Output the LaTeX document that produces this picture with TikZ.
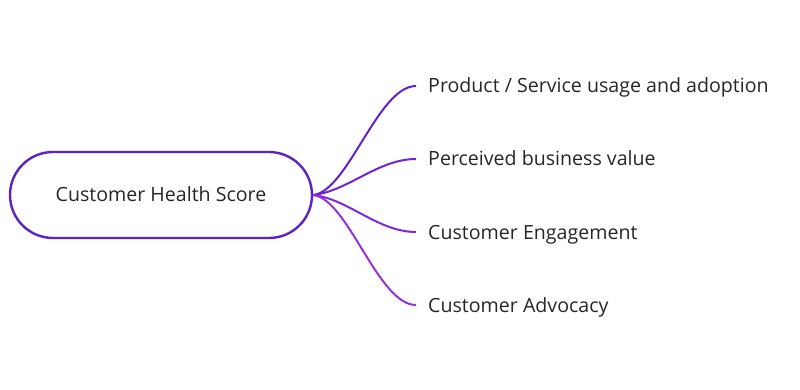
\documentclass[tikz,border=0pt]{standalone}
\usepackage{fontspec}
\setmainfont{Open Sans}
\usetikzlibrary{shapes.misc}

\definecolor{rootline}{RGB}{92,34,196}
\definecolor{branchA}{RGB}{98,32,208}
\definecolor{branchB}{RGB}{112,36,212}
\definecolor{branchC}{RGB}{130,40,214}
\definecolor{branchD}{RGB}{150,50,216}

\begin{document}
\begin{tikzpicture}[
  x=1pt,y=-1pt,
  root/.style={rounded rectangle,draw=rootline,line width=2.4pt,
    minimum width=302pt,minimum height=86pt,inner sep=0pt,
    text height=14pt,text depth=0pt,
    font=\fontsize{19.6}{23}\selectfont,text=black!85},
  leaf/.style={anchor=west,inner xsep=12pt,inner ysep=0pt,
    text height=14pt,text depth=0pt,
    font=\fontsize{19.6}{23}\selectfont,text=black!85},
  branch/.style={line width=2pt}
]
  \useasboundingbox (0,0) rectangle (800,390);

  \node[root] (health) at (161,195) {Customer Health Score};

  \node[leaf] (usage)    at (416,86)  {Product / Service usage and adoption};
  \node[leaf] (value)    at (416,159) {Perceived business value};
  \node[leaf] (engage)   at (416,232) {Customer Engagement};
  \node[leaf] (advocacy) at (416,305) {Customer Advocacy};

  % branches out of the root
  \draw[branch,branchA] (health.east) .. controls +(35,-4) and +(-38,0) .. (usage.west);
  \draw[branch,branchB] (health.east) .. controls +(35,-4) and +(-38,0) .. (value.west);
  \draw[branch,branchC] (health.east) .. controls +(35,4) and +(-38,0) .. (engage.west);
  \draw[branch,branchD] (health.east) .. controls +(35,4) and +(-38,0) .. (advocacy.west);
\end{tikzpicture}
\end{document}
